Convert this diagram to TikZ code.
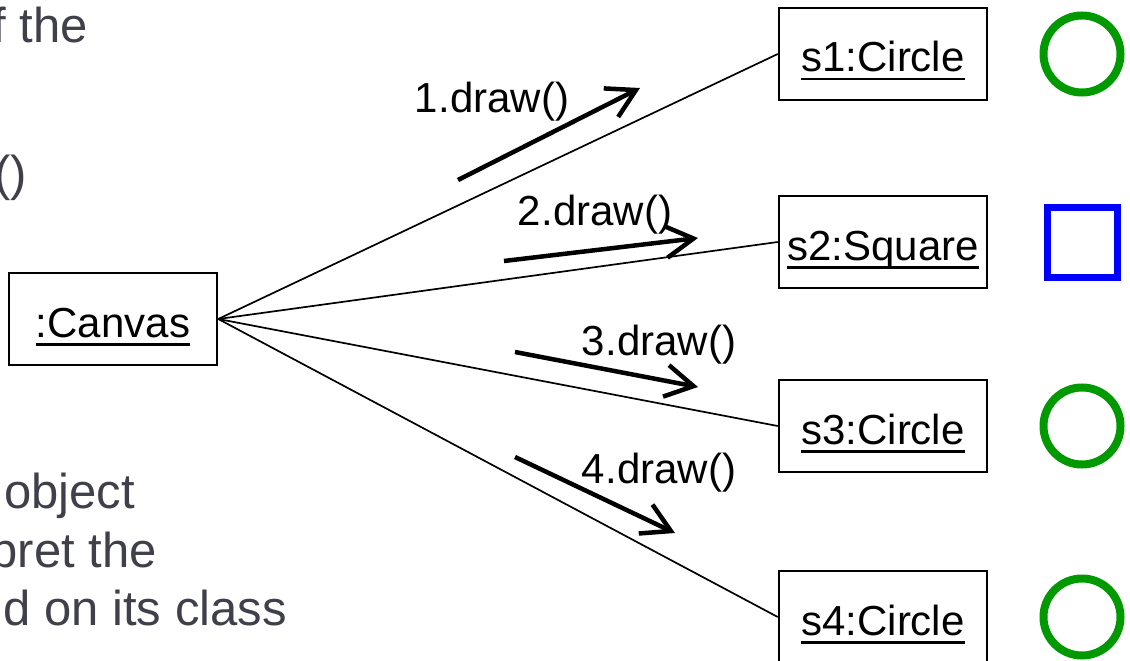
\documentclass[tikz,border=0pt]{standalone}
\usepackage{fontspec}
\setmainfont{Liberation Sans}
\usetikzlibrary{arrows.meta}
\definecolor{shapegreen}{RGB}{0,153,0}
\definecolor{shapeblue}{RGB}{0,0,255}
\definecolor{fragc}{RGB}{64,64,74}
\newcommand\myul[1]{\setbox0\hbox{#1}\rlap{\vrule height -6pt depth 8.5pt width \wd0}\box0}
\begin{document}
\begin{tikzpicture}[x=1pt,y=-1pt,
  obj/.style={draw, line width=2.5pt, minimum width=208pt, minimum height=92pt, inner sep=0pt,
    text height=44pt, text depth=8pt, font=\fontsize{42}{50}\selectfont},
  link/.style={line width=1.7pt},
  msg/.style={line width=4.5pt, -{Straight Barb[length=28pt,width=32pt]}},
  lbl/.style={font=\fontsize{42}{50}\selectfont, inner sep=0pt, anchor=base},
  frag/.style={font=\fontsize{49}{58}\selectfont, text=fragc, inner sep=0pt, anchor=base east},
  circ/.style={circle, draw=shapegreen, line width=8pt, minimum size=77pt, inner sep=0pt},
  sq/.style={rectangle, draw=shapeblue, line width=7pt, minimum size=70pt, inner sep=0pt}]
\clip (0,0) rectangle (1130,661);
% background text fragments
\node[frag] (f1) at (88,43) {f the};
\node[frag] (f2) at (27,190) {()};
\node[frag] (f3) at (135,508) {object};
\node[frag] (f4) at (157,567) {pret the};
\node[frag] (f5) at (287,625) {d on its class};
% objects
\node[obj] (canvas) at (113,319) {\myul{:Canvas}};
\node[obj] (s1) at (883,54) {\myul{s1:Circle}};
\node[obj] (s2) at (883,242) {\myul{s2:Square}};
\node[obj] (s3) at (883,426) {\myul{s3:Circle}};
\node[obj] (s4) at (883,617) {\myul{s4:Circle}};
% links
\draw[link] (canvas.east) -- (s1.west);
\draw[link] (canvas.east) -- (s2.west);
\draw[link] (canvas.east) -- (s3.west);
\draw[link] (canvas.east) -- (s4.west);
% shapes
\node[circ] (c1) at (1082,54) {};
\node[sq] (q2) at (1082,242) {};
\node[circ] (c3) at (1082,426) {};
\node[circ] (c4) at (1082,617) {};
% messages
\coordinate (m1a) at (458,180); \coordinate (m1b) at (640,88);
\coordinate (m2a) at (504,261); \coordinate (m2b) at (698,238);
\coordinate (m3a) at (515,352); \coordinate (m3b) at (698,387);
\coordinate (m4a) at (515,457); \coordinate (m4b) at (675,533);
\draw[msg] (m1a) -- (m1b);
\draw[msg] (m2a) -- (m2b);
\draw[msg] (m3a) -- (m3b);
\draw[msg] (m4a) -- (m4b);
\node[lbl] (l1) at (492,113) {1.draw()};
\node[lbl] (l2) at (595,225) {2.draw()};
\node[lbl] (l3) at (659,355) {3.draw()};
\node[lbl] (l4) at (659,483) {4.draw()};
\end{tikzpicture}
\end{document}
